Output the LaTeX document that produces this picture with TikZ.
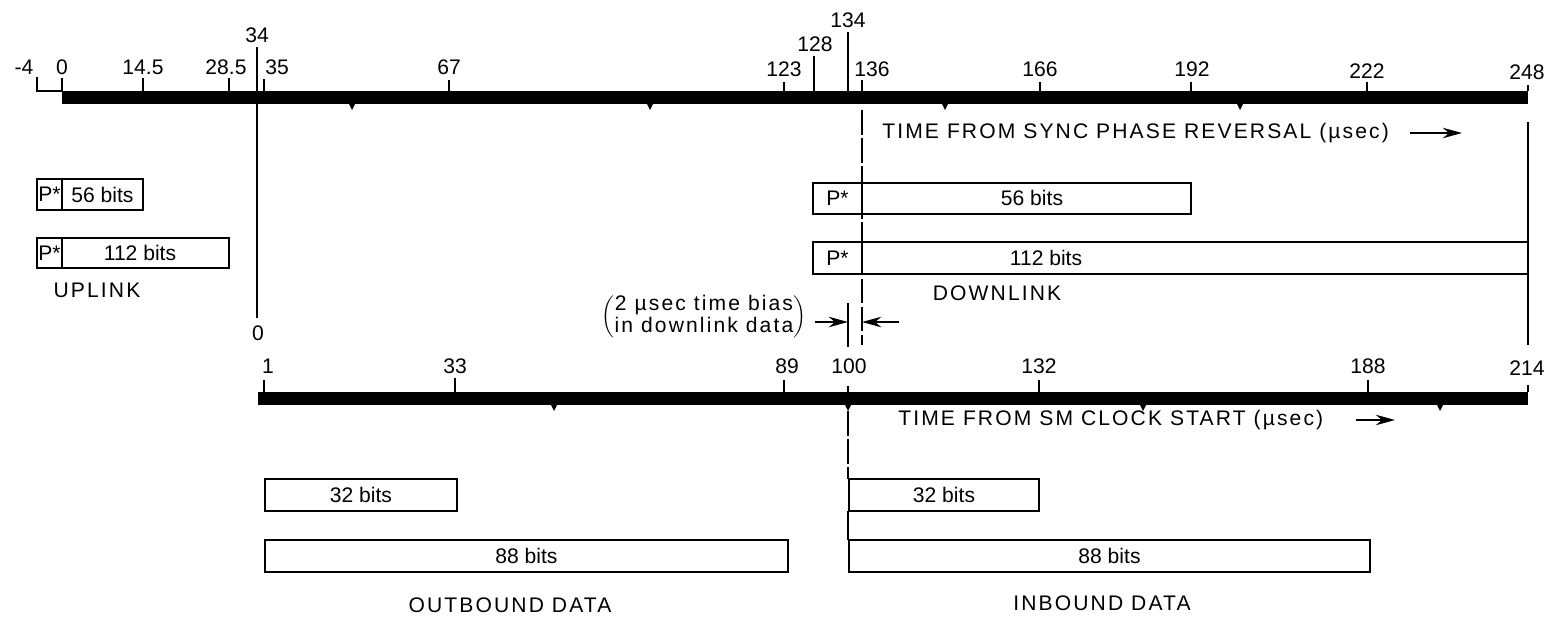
\documentclass[tikz,border=0pt]{standalone}
\usepackage{fontspec}
\setmainfont{Liberation Sans}
\newfontfamily\spfont[LetterSpace=10]{Liberation Sans}
\usetikzlibrary{fit,arrows.meta}

\tikzset{
  pbox/.style={draw, line width=0.8pt, inner sep=0pt},
  bits/.style={inner sep=0pt, font=\fontsize{12}{14}\selectfont},
  tickl/.style={inner sep=0pt, font=\fontsize{12}{14}\selectfont},
  ttl/.style={inner sep=0pt, font=\spfont\fontsize{12}{14}\selectfont},
  tk/.style={line width=0.8pt},
  guide/.style={line width=0.8pt, dash pattern=on 14pt off 2pt},
  arr/.style={line width=1pt, -{Stealth[length=11pt,width=6pt]}}
}

\begin{document}
\begin{tikzpicture}[x=0.02cm,y=-0.02cm]
\useasboundingbox (0,0) rectangle (1555,619);

% sync phase reversal axis
\fill (62,91) rectangle (1528,104);
\draw[tk] (37,77) -- (37,91) -- (62,91);
\node[tickl] (tm4) at (24,67) {-4};
\foreach \x/\y/\t/\lx/\ly [count=\i] in {62/78/0/62/67, 143/78/14.5/143/67,
    229/78/28.5/226/67, 264/79/35/277/67, 449/80/67/449/67, 784/82/123/784/69,
    814/56/128/815/44, 848/32/134/848/20, 862/80/136/872/69, 1040/82/166/1040/69,
    1191/82/192/1192/69, 1367/82/222/1367/71, 1528/85/248/1527/72}{
  \draw[tk] (\x,\y) -- (\x,91);
  \node[tickl] (top\i) at (\lx,\ly) {\t};
}
\node[tickl] (top34) at (257,35) {34};
\foreach \x in {352,650,945,1240}
  \fill (\x-3,104) -- (\x+3,104) -- (\x,110) -- cycle;
\node[ttl, anchor=west] (syncttl) at (882,133) {TIME FROM SYNC PHASE REVERSAL (µsec)};
\coordinate (sa) at (1410,133);
\coordinate (sb) at (1462,133);
\draw[arr] (sa) -- (sb);

% guide lines
\draw[tk] (257,47) -- (257,318);
\draw[guide] (862,110) -- (862,345);
\draw[tk] (1528,122) -- (1528,345);
\draw[tk] (848,303) -- (848,347);

% uplink
\node[pbox, fit={(37,179)(62,210)}] (ul56p) {};
\node[pbox, fit={(62,179)(143,210)}] (ul56) {};
\node[pbox, fit={(37,238)(62,268)}] (ul112p) {};
\node[pbox, fit={(62,238)(229,268)}] (ul112) {};
\node[bits] (ul56pt) at (ul56p) {P*};
\node[bits] (ul56t) at (ul56) {56 bits};
\node[bits] (ul112pt) at (ul112p) {P*};
\node[bits] (ul112t) at (140,253) {112 bits};
\node[ttl] (uplink) at (97,290) {UPLINK};

% downlink
\node[pbox, fill=white, fit={(813,183)(862,214)}] (dl56p) {};
\node[pbox, fill=white, fit={(862,183)(1191,214)}] (dl56) {};
\node[pbox, fill=white, fit={(813,242)(862,274)}] (dl112p) {};
\node[pbox, fill=white, fit={(862,242)(1528,274)}] (dl112) {};
\node[bits] (dl56pt) at (dl56p) {P*};
\node[bits] (dl56t) at (1032,198) {56 bits};
\node[bits] (dl112pt) at (dl112p) {P*};
\node[bits] (dl112t) at (1046,258) {112 bits};
\node[ttl] (downlink) at (997,293) {DOWNLINK};

% time bias
\node[inner sep=0pt, font=\spfont\fontsize{12}{12}\selectfont] (bias) at (704,317)
  {$\left(\begin{tabular}{@{}c@{}}2 µsec time bias\\in downlink data\end{tabular}\right)$};
\coordinate (bl) at (815,322);
\coordinate (bm) at (848,322);
\coordinate (br) at (899,322);
\coordinate (bn) at (862,322);
\draw[arr] (bl) -- (bm);
\draw[arr] (br) -- (bn);

% sm clock axis
\node[tickl] (bot0) at (258,333) {0};
\fill (258,392) rectangle (1528,405);
\foreach \x/\y/\t/\lx/\ly [count=\i] in {264/380/1/268/366, 455/378/33/455/366,
    784/380/89/787/366, 848/386/100/849/366, 1039/380/132/1039/366,
    1368/380/188/1368/366, 1528/385/214/1527/368}{
  \draw[tk] (\x,\y) -- (\x,392);
  \node[tickl] (bot\i) at (\lx,\ly) {\t};
}
\foreach \x in {554,848,1143,1440}
  \fill (\x-3,405) -- (\x+3,405) -- (\x,411) -- cycle;
\node[ttl, anchor=west] (smttl) at (898,420) {TIME FROM SM CLOCK START (µsec)};
\coordinate (ma) at (1356,420);
\coordinate (mb) at (1395,420);
\draw[arr] (ma) -- (mb);
\draw[guide] (848,411) -- (848,479);
\draw[tk] (848,511) -- (848,540);

% outbound / inbound
\node[pbox, fit={(265,479)(457,511)}] (ob32) {};
\node[pbox, fit={(265,540)(788,572)}] (ob88) {};
\node[bits] (ob32t) at (ob32) {32 bits};
\node[bits] (ob88t) at (ob88) {88 bits};
\node[ttl] (outbound) at (510,605) {OUTBOUND DATA};
\node[pbox, fit={(849,479)(1039,511)}] (ib32) {};
\node[pbox, fit={(849,540)(1370,572)}] (ib88) {};
\node[bits] (ib32t) at (ib32) {32 bits};
\node[bits] (ib88t) at (ib88) {88 bits};
\node[ttl] (inbound) at (1102,603) {INBOUND DATA};
\end{tikzpicture}
\end{document}
